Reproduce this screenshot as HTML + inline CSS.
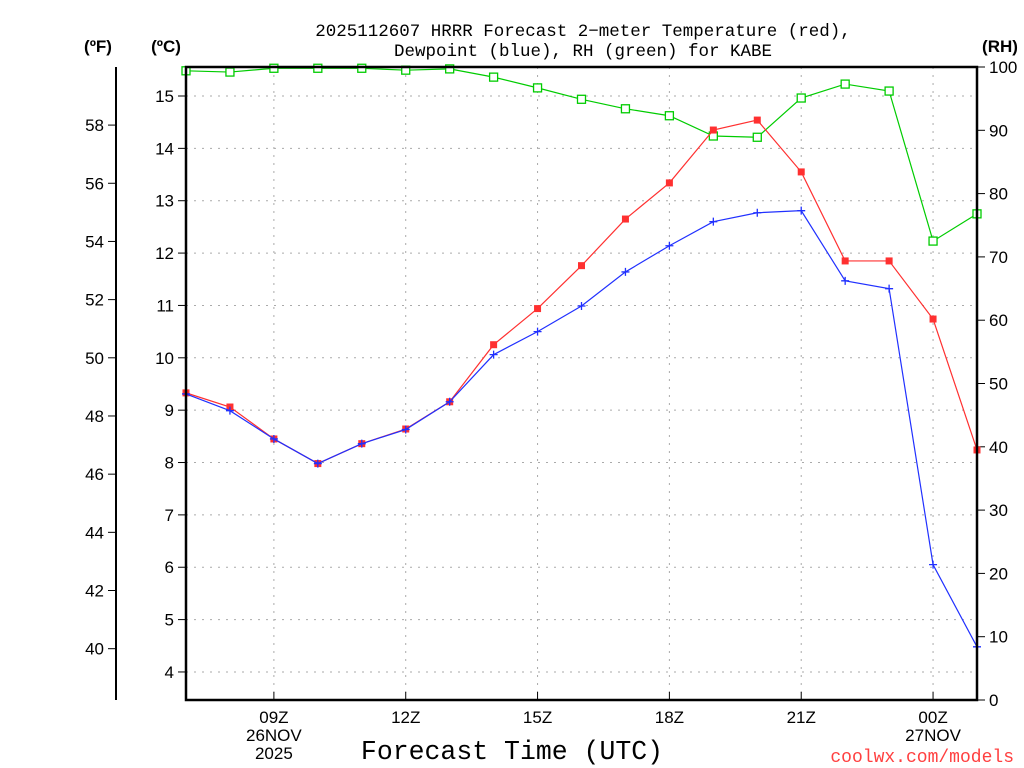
<!DOCTYPE html>
<html><head><meta charset="utf-8"><style>
body{margin:0;background:#fff}
svg{display:block;font-family:"Liberation Sans",sans-serif}
.m{font-family:"Liberation Mono",monospace}
</style></head><body>
<svg id="c" width="1024" height="768">
<text class="m" x="583" y="36" text-anchor="middle" font-size="17.5">2025112607 HRRR Forecast 2−meter Temperature (red),</text>
<text class="m" x="583" y="56" text-anchor="middle" font-size="17.5">Dewpoint (blue), RH (green) for KABE</text>
<text x="98" y="52" text-anchor="middle" font-size="17" font-weight="bold">(ºF)</text>
<text x="166" y="52" text-anchor="middle" font-size="17" font-weight="bold">(ºC)</text>
<text x="1000" y="52" text-anchor="middle" font-size="17" font-weight="bold">(RH)</text>
<text class="m" x="512" y="759" text-anchor="middle" font-size="26.5">Forecast Time (UTC)</text>
<text class="m" x="1014" y="762" text-anchor="end" font-size="18" fill="#ff4040">coolwx.com/models</text>
<g id="g"></g>
</svg>
<script>
const hours=[7,8,9,10,11,12,13,14,15,16,17,18,19,20,21,22,23,24,25];
const tempC=[9.33,9.06,8.45,7.98,8.36,8.64,9.16,10.25,10.94,11.76,12.65,13.34,14.35,14.54,13.55,11.85,11.85,10.74,8.24];
const dewC=[9.31,8.99,8.45,7.98,8.36,8.63,9.16,10.06,10.50,10.99,11.64,12.14,12.60,12.77,12.81,11.47,11.32,6.05,4.48];
const rh=[99.4,99.2,99.8,99.8,99.8,99.5,99.7,98.4,96.7,94.9,93.4,92.3,89.1,88.9,95.1,97.3,96.2,72.5,76.8];
const cTicks=[4,5,6,7,8,9,10,11,12,13,14,15];
const fTicks=[40,42,44,46,48,50,52,54,56,58];
const rhTicks=[0,10,20,30,40,50,60,70,80,90,100];
const xTicks=[[9,'09Z','26NOV','2025'],[12,'12Z'],[15,'15Z'],[18,'18Z'],[21,'21Z'],[24,'00Z','27NOV']];
const L=186,R=977,T=67,B=700;
const x=h=>L+(h-7)*(R-L)/18;
const yC=c=>96+(15-c)*52.36;
const yF=f=>yC((f-32)/1.8);
const yR=r=>B-r*(B-T)/100;
const g=document.getElementById('g');const NS='http://www.w3.org/2000/svg';
function el(t,a,txt){const e=document.createElementNS(NS,t);for(const k in a)e.setAttribute(k,a[k]);if(txt!==undefined)e.textContent=txt;g.appendChild(e);return e;}
cTicks.forEach(c=>{
 const l=el('line',{x1:L,x2:R,y1:yC(c),y2:yC(c),stroke:'#aaa','stroke-dasharray':'2,6'});
 
 
 el('line',{x1:L-8,x2:L,y1:yC(c),y2:yC(c),stroke:'#000'});
 const t=el('text',{x:L-12,y:yC(c)+6,'text-anchor':'end','font-size':17},String(c));
 
 
});
xTicks.forEach(a=>{
 const X=x(a[0]);
 const l=el('line',{x1:X,x2:X,y1:T,y2:B,stroke:'#aaa','stroke-dasharray':'2,6'});
 
 
 el('line',{x1:X,x2:X,y1:B,y2:B-8,stroke:'#000'});
 for(let i=1;i<a.length;i++){
  const t=el('text',{x:X,y:B+23+(i-1)*18,'text-anchor':'middle','font-size':17},a[i]);
  
  
 }
});
el('line',{x1:116,x2:116,y1:T,y2:B,stroke:'#000','stroke-width':2});
fTicks.forEach(f=>{
 el('line',{x1:108,x2:116,y1:yF(f),y2:yF(f),stroke:'#000'});
 const t=el('text',{x:104,y:yF(f)+6,'text-anchor':'end','font-size':17},String(f));
 
 
});
rhTicks.forEach(r=>{
 el('line',{x1:R,x2:R+8,y1:yR(r),y2:yR(r),stroke:'#000'});
 const t=el('text',{x:R+12,y:yR(r)+6,'font-size':17},String(r));
 
 
});
function series(vals,yf,col,name,mk){
 const p=el('polyline',{points:vals.map((v,i)=>x(hours[i])+','+yf(v)).join(' '),fill:'none',stroke:col,'stroke-width':1.2});
 
 
 vals.forEach((v,i)=>{
  const X=x(hours[i]),Y=yf(v);let m;
  if(mk==='fill')m=el('rect',{x:X-3.5,y:Y-3.5,width:7,height:7,fill:col});
  else if(mk==='open')m=el('rect',{x:X-4,y:Y-4,width:8,height:8,fill:'#fff',stroke:col,'stroke-width':1.3});
  else m=el('path',{d:`M${X-4},${Y}H${X+4}M${X},${Y-4}V${Y+4}`,stroke:col,'stroke-width':1.3});
  
  
 });
}
series(rh,yR,'#00cc00','rh','open');
series(tempC,yC,'#ff3030','temperature','fill');
series(dewC,yC,'#2030ff','dewpoint','plus');
const f=el('rect',{x:L,y:T,width:R-L,height:B-T,fill:'none',stroke:'#000','stroke-width':2.5});


</script>
</body></html>
